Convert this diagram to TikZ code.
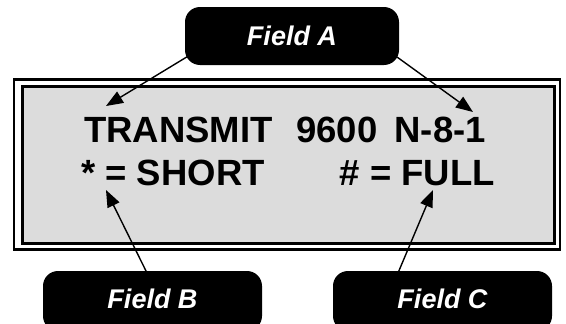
\documentclass[tikz,border=0pt]{standalone}
\usepackage{fontspec}
\setmainfont{Liberation Sans}
\usetikzlibrary{arrows.meta}
\definecolor{lcdgray}{HTML}{DCDCDC}
\begin{document}
\begin{tikzpicture}[x=1pt,y=-1pt,
  fieldbox/.style={fill=black, rounded corners=15pt, text=white, inner sep=0pt,
    font=\fontsize{27}{27}\selectfont\bfseries\itshape},
  lcdtext/.style={inner sep=0pt, font=\fontsize{36.5}{36.5}\selectfont\bfseries},
  arr/.style={draw=black, line width=1.4pt, -{Triangle[length=17pt,width=13pt]}}]
\useasboundingbox (0,0) rectangle (566,324);
\clip (0,0) rectangle (566,324);
% frame
\draw[line width=2.3pt, fill=white] (14.3,79.5) rectangle (560,249.5);
\draw[line width=3pt, fill=lcdgray] (22.7,86.5) rectangle (554.5,243);
% texts
\node[lcdtext, anchor=base west] (tx1) at (84,142) {TRANSMIT};
\node[lcdtext, anchor=base west] (tx2) at (296,142) {9600};
\node[lcdtext, anchor=base east] (tx3) at (486,142) {N-8-1};
\node[lcdtext, anchor=base west] (tx4) at (81,185) {* = SHORT};
\node[lcdtext, anchor=base east] (tx5) at (495,185) {\# = FULL};
% coordinates
\coordinate (a1s) at (190,55);
\coordinate (a1e) at (106,106);
\coordinate (a2s) at (397,57);
\coordinate (a2e) at (473,112);
\coordinate (bs) at (147,273);
\coordinate (be) at (106,190);
\coordinate (cs) at (398,273);
\coordinate (ce) at (433,190);
\draw[arr] (a1s) -- (a1e);
\draw[arr] (a2s) -- (a2e);
\draw[arr] (bs) -- (be);
\draw[arr] (cs) -- (ce);
% field boxes
\node[fieldbox, minimum width=214pt, minimum height=58pt] (fa) at (292,36) {Field A};
\node[fieldbox, minimum width=219pt, minimum height=60pt] (fb) at (152.5,301) {\raisebox{5pt}{Field B}};
\node[fieldbox, minimum width=219pt, minimum height=60pt] (fc) at (442.5,301) {\raisebox{5pt}{Field C}};
\end{tikzpicture}
\end{document}
